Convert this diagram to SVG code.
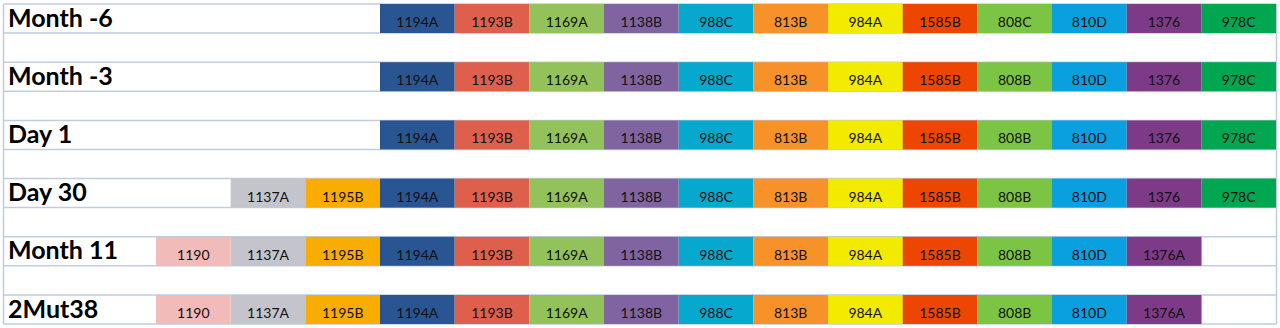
<svg xmlns="http://www.w3.org/2000/svg" width="1280" height="328" viewBox="0 0 1280 328">
<style>
.bg{fill:#ffffff}
.gl{stroke:#BFCDE0;stroke-width:1.5;fill:none}
.lbl{font-family:Lato,"Liberation Sans",sans-serif;font-weight:bold;font-size:25px;fill:#000}
.t{font-family:Lato,"Liberation Sans",sans-serif;font-size:14px;fill:#111;text-anchor:middle}
.c0{fill:#F0BBB8}.c1{fill:#C4C5CC}.c2{fill:#F9AD00}.c3{fill:#2A5593}.c4{fill:#DF5F4D}
.c5{fill:#93C25A}.c6{fill:#8064A1}.c7{fill:#07A8CE}.c8{fill:#F7922B}.c9{fill:#F2EB00}
.c10{fill:#EC4602}.c11{fill:#7CC443}.c12{fill:#0A9FDF}.c13{fill:#7D3A86}.c14{fill:#00A650}
</style>
<defs>
<g id="r0cells">
<rect class="c3" x="380" y="0" width="74.67" height="29"/><text class="t" x="417.3" y="23">1194A</text>
<rect class="c4" x="454.67" y="0" width="74.67" height="29"/><text class="t" x="492" y="23">1193B</text>
<rect class="c5" x="529.33" y="0" width="74.67" height="29"/><text class="t" x="566.7" y="23">1169A</text>
<rect class="c6" x="604" y="0" width="74.67" height="29"/><text class="t" x="641.3" y="23">1138B</text>
<rect class="c7" x="678.67" y="0" width="74.67" height="29"/><text class="t" x="716" y="23">988C</text>
<rect class="c8" x="753.33" y="0" width="74.67" height="29"/><text class="t" x="790.7" y="23">813B</text>
<rect class="c9" x="828" y="0" width="74.67" height="29"/><text class="t" x="865.3" y="23">984A</text>
<rect class="c10" x="902.67" y="0" width="74.67" height="29"/><text class="t" x="940" y="23">1585B</text>
</g>
</defs>
<rect class="bg" x="0" y="0" width="1280" height="328"/>
<g id="grid">
<path class="gl" d="M3.5 4H1276.5M3.5 33H1276.5M3.5 62.2H1276.5M3.5 91.2H1276.5M3.5 120.4H1276.5M3.5 149.4H1276.5M3.5 178.6H1276.5M3.5 207.6H1276.5M3.5 236.8H1276.5M3.5 265.8H1276.5M3.5 295H1276.5M3.5 324H1276.5"/>
<path class="gl" d="M3.5 4V324M1276.5 4V324M1201.33 236.8V265.8M1201.33 295V324"/>
</g>
<g id="connectors"></g>
<g id="month-6" transform="translate(0,4)">
<text class="lbl" x="8" y="22.5">Month -6</text>
<use href="#r0cells"/>
<rect class="c11" x="977.33" y="0" width="74.67" height="29"/><text class="t" x="1014.7" y="23">808C</text>
<rect class="c12" x="1052" y="0" width="74.67" height="29"/><text class="t" x="1089.3" y="23">810D</text>
<rect class="c13" x="1126.67" y="0" width="74.67" height="29"/><text class="t" x="1164" y="23">1376</text>
<rect class="c14" x="1201.33" y="0" width="74.67" height="29"/><text class="t" x="1238.7" y="23">978C</text>
</g>
<g id="month-3" transform="translate(0,62.2)">
<text class="lbl" x="8" y="22.5">Month -3</text>
<use href="#r0cells"/>
<rect class="c11" x="977.33" y="0" width="74.67" height="29"/><text class="t" x="1014.7" y="23">808B</text>
<rect class="c12" x="1052" y="0" width="74.67" height="29"/><text class="t" x="1089.3" y="23">810D</text>
<rect class="c13" x="1126.67" y="0" width="74.67" height="29"/><text class="t" x="1164" y="23">1376</text>
<rect class="c14" x="1201.33" y="0" width="74.67" height="29"/><text class="t" x="1238.7" y="23">978C</text>
</g>
<g id="day1" transform="translate(0,120.4)">
<text class="lbl" x="8" y="22.5">Day 1</text>
<use href="#r0cells"/>
<rect class="c11" x="977.33" y="0" width="74.67" height="29"/><text class="t" x="1014.7" y="23">808B</text>
<rect class="c12" x="1052" y="0" width="74.67" height="29"/><text class="t" x="1089.3" y="23">810D</text>
<rect class="c13" x="1126.67" y="0" width="74.67" height="29"/><text class="t" x="1164" y="23">1376</text>
<rect class="c14" x="1201.33" y="0" width="74.67" height="29"/><text class="t" x="1238.7" y="23">978C</text>
</g>
<g id="day30" transform="translate(0,178.6)">
<text class="lbl" x="8" y="22.5">Day 30</text>
<rect class="c1" x="230.67" y="0" width="74.67" height="29"/><text class="t" x="268" y="23">1137A</text>
<rect class="c2" x="305.33" y="0" width="74.67" height="29"/><text class="t" x="342.7" y="23">1195B</text>
<use href="#r0cells"/>
<rect class="c11" x="977.33" y="0" width="74.67" height="29"/><text class="t" x="1014.7" y="23">808B</text>
<rect class="c12" x="1052" y="0" width="74.67" height="29"/><text class="t" x="1089.3" y="23">810D</text>
<rect class="c13" x="1126.67" y="0" width="74.67" height="29"/><text class="t" x="1164" y="23">1376</text>
<rect class="c14" x="1201.33" y="0" width="74.67" height="29"/><text class="t" x="1238.7" y="23">978C</text>
</g>
<g id="month11" transform="translate(0,236.8)">
<text class="lbl" x="8" y="22.5">Month 11</text>
<rect class="c0" x="156" y="0" width="74.67" height="29"/><text class="t" x="193.3" y="23">1190</text>
<rect class="c1" x="230.67" y="0" width="74.67" height="29"/><text class="t" x="268" y="23">1137A</text>
<rect class="c2" x="305.33" y="0" width="74.67" height="29"/><text class="t" x="342.7" y="23">1195B</text>
<use href="#r0cells"/>
<rect class="c11" x="977.33" y="0" width="74.67" height="29"/><text class="t" x="1014.7" y="23">808B</text>
<rect class="c12" x="1052" y="0" width="74.67" height="29"/><text class="t" x="1089.3" y="23">810D</text>
<rect class="c13" x="1126.67" y="0" width="74.67" height="29"/><text class="t" x="1164" y="23">1376A</text>
</g>
<g id="2mut38" transform="translate(0,295)">
<text class="lbl" x="8" y="22.5">2Mut38</text>
<rect class="c0" x="156" y="0" width="74.67" height="29"/><text class="t" x="193.3" y="23">1190</text>
<rect class="c1" x="230.67" y="0" width="74.67" height="29"/><text class="t" x="268" y="23">1137A</text>
<rect class="c2" x="305.33" y="0" width="74.67" height="29"/><text class="t" x="342.7" y="23">1195B</text>
<use href="#r0cells"/>
<rect class="c11" x="977.33" y="0" width="74.67" height="29"/><text class="t" x="1014.7" y="23">808B</text>
<rect class="c12" x="1052" y="0" width="74.67" height="29"/><text class="t" x="1089.3" y="23">810D</text>
<rect class="c13" x="1126.67" y="0" width="74.67" height="29"/><text class="t" x="1164" y="23">1376A</text>
</g>
</svg>
